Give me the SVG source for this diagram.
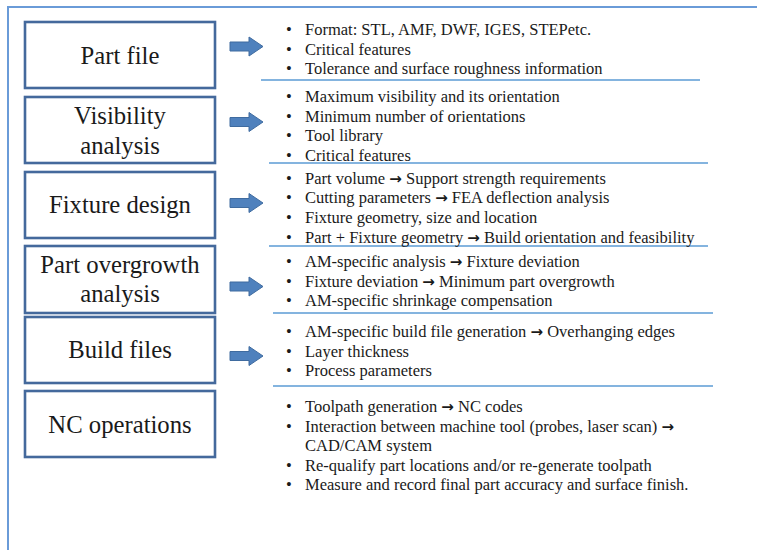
<svg xmlns="http://www.w3.org/2000/svg" width="757" height="550" viewBox="0 0 757 550">
  <style>
    .frame { fill: none; stroke: #6a9bd8; stroke-width: 2; }
    .box { fill: #ffffff; stroke: #44699c; stroke-width: 2.6; }
    .label { font-family: "Liberation Serif", "Times New Roman", serif; font-size: 24.7px; fill: #1a1a1a; text-anchor: middle; }
    .item { font-family: "Liberation Serif", "Times New Roman", serif; font-size: 16.5px; fill: #1a1a1a; }
    .to { font-family: "DejaVu Sans", sans-serif; font-weight: bold; font-size: 15px; }
    .sep { stroke: #5b9bd5; stroke-width: 1.5; }
    .arrow { fill: #4f81bd; stroke: #3f6b9f; stroke-width: 1; }
  </style>
  <defs>
    <polygon id="blockArrow" points="0,-4.5 19,-4.5 19,-9.5 33,0 19,9.5 19,4.5 0,4.5"/>
  </defs>

  <rect width="757" height="550" fill="#ffffff"/>
  <!-- outer frame (runs off the right and bottom edges) -->
  <path class="frame" d="M8,552 V7 H760"/>

  <!-- process step boxes -->
  <g id="part-file">
    <rect class="box" x="25" y="22" width="190" height="66"/>
    <text class="label" x="120" y="64">Part file</text>
  </g>
  <g id="visibility-analysis">
    <rect class="box" x="25" y="97" width="190" height="66"/>
    <text class="label" x="120" y="124">Visibility</text>
    <text class="label" x="120" y="154">analysis</text>
  </g>
  <g id="fixture-design">
    <rect class="box" x="25" y="172" width="190" height="66"/>
    <text class="label" x="120" y="213">Fixture design</text>
  </g>
  <g id="part-overgrowth-analysis">
    <rect class="box" x="25" y="246" width="190" height="67"/>
    <text class="label" x="120" y="273">Part overgrowth</text>
    <text class="label" x="120" y="302">analysis</text>
  </g>
  <g id="build-files">
    <rect class="box" x="25" y="317" width="190" height="66"/>
    <text class="label" x="120" y="358">Build files</text>
  </g>
  <g id="nc-operations">
    <rect class="box" x="25" y="391" width="190" height="66"/>
    <text class="label" x="120" y="433">NC operations</text>
  </g>

  <!-- block arrows and separators -->
  <g id="connectors">
    <use href="#blockArrow" class="arrow" x="230" y="46.5"/>
    <use href="#blockArrow" class="arrow" x="230" y="122"/>
    <use href="#blockArrow" class="arrow" x="230" y="203"/>
    <use href="#blockArrow" class="arrow" x="230" y="286.5"/>
    <use href="#blockArrow" class="arrow" x="230" y="356"/>
    <line class="sep" x1="261" y1="80" x2="700" y2="80"/>
    <line class="sep" x1="269" y1="163" x2="708" y2="163"/>
    <line class="sep" x1="269" y1="246" x2="708" y2="246"/>
    <line class="sep" x1="273" y1="313" x2="713" y2="313"/>
    <line class="sep" x1="273" y1="386" x2="713" y2="386"/>
  </g>

  <!-- bullet lists -->
  <g id="part-file-details" class="item">
    <text x="286" y="35">•</text><text x="305" y="35">Format: STL, AMF, DWF, IGES, STEPetc.</text>
    <text x="286" y="54.5">•</text><text x="305" y="54.5">Critical  features</text>
    <text x="286" y="74">•</text><text x="305" y="74">Tolerance  and surface roughness information</text>
  </g>
  <g id="visibility-details" class="item">
    <text x="286" y="101.5">•</text><text x="305" y="101.5">Maximum visibility  and its orientation</text>
    <text x="286" y="121.5">•</text><text x="305" y="121.5">Minimum number of orientations</text>
    <text x="286" y="141">•</text><text x="305" y="141">Tool library</text>
    <text x="286" y="160.5">•</text><text x="305" y="160.5">Critical  features</text>
  </g>
  <g id="fixture-details" class="item">
    <text x="286" y="183.5">•</text><text x="305" y="183.5">Part volume <tspan class="to">→</tspan> Support strength requirements</text>
    <text x="286" y="203">•</text><text x="305" y="203">Cutting parameters <tspan class="to">→</tspan> FEA deflection analysis</text>
    <text x="286" y="223">•</text><text x="305" y="223">Fixture geometry, size and location</text>
    <text x="286" y="242.5">•</text><text x="305" y="242.5">Part + Fixture geometry <tspan class="to">→</tspan> Build orientation and feasibility</text>
  </g>
  <g id="overgrowth-details" class="item">
    <text x="286" y="266.5">•</text><text x="305" y="266.5">AM-specific  analysis <tspan class="to">→</tspan> Fixture deviation</text>
    <text x="286" y="286.5">•</text><text x="305" y="286.5">Fixture deviation <tspan class="to">→</tspan> Minimum part overgrowth</text>
    <text x="286" y="306">•</text><text x="305" y="306">AM-specific  shrinkage  compensation</text>
  </g>
  <g id="build-details" class="item">
    <text x="286" y="337">•</text><text x="305" y="337">AM-specific  build file generation <tspan class="to">→</tspan> Overhanging edges</text>
    <text x="286" y="356.5">•</text><text x="305" y="356.5">Layer thickness</text>
    <text x="286" y="376">•</text><text x="305" y="376">Process parameters</text>
  </g>
  <g id="nc-details" class="item">
    <text x="286" y="412">•</text><text x="305" y="412">Toolpath generation <tspan class="to">→</tspan> NC codes</text>
    <text x="286" y="431.5">•</text><text x="305" y="431.5">Interaction  between machine tool (probes, laser scan) <tspan class="to">→</tspan></text>
    <text x="305" y="451">CAD/CAM system</text>
    <text x="286" y="470.5">•</text><text x="305" y="470.5">Re-qualify  part locations and/or re-generate  toolpath</text>
    <text x="286" y="490">•</text><text x="305" y="490">Measure and record final  part accuracy and surface finish.</text>
  </g>
</svg>
